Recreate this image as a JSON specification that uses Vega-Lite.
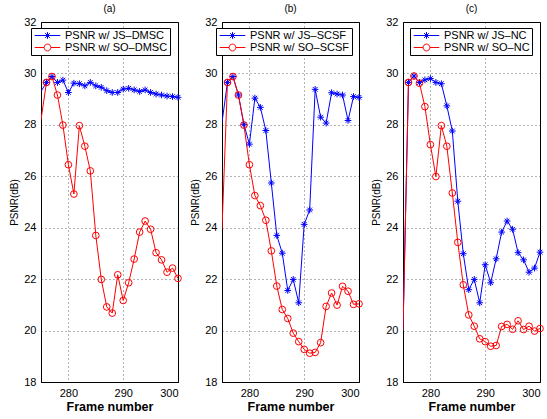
{
  "$schema": "https://vega.github.io/schema/vega-lite/v6.json",
  "background": "white",
  "padding": {"left": 9, "top": 3, "right": 5, "bottom": 5},
  "spacing": 44,
  "bounds": "flush",
  "config": {
    "font": "Liberation Sans",
    "view": {"stroke": "black", "strokeWidth": 1},
    "axis": {
      "labelFont": "Liberation Sans", "labelFontSize": 11, "labelColor": "black",
      "titleFont": "Liberation Sans", "titleColor": "black",
      "domainColor": "black", "domainWidth": 1,
      "gridColor": "black", "gridDash": [1, 3], "gridOpacity": 0.6, "gridWidth": 1,
      "ticks": false, "labelPadding": 5
    },
    "axisX": {"titleFontSize": 12.5, "titleFontWeight": "bold", "titlePadding": 2},
    "axisY": {"titleFontSize": 10, "titleFontWeight": "normal", "titlePadding": 4},
    "title": {"fontSize": 10, "font": "Liberation Sans", "fontWeight": "normal", "offset": 2, "color": "black"},
    "legend": {
      "orient": "none", "legendY": 6, "strokeColor": "black", "fillColor": "white",
      "padding": 2, "rowPadding": 0, "labelFont": "Liberation Sans", "labelFontSize": 11,
      "labelColor": "black", "symbolSize": 64, "symbolStrokeWidth": 1, "symbolOffset": 9,
      "labelOffset": 12, "cornerRadius": 0, "title": null
    }
  },
  "resolve": {"scale": {"color": "independent", "shape": "independent"}, "legend": {"color": "independent", "shape": "independent"}},
  "datasets": {
    "a": [
      {"frame": 275, "psnr": 29.3, "series": "PSNR w/ JS–DMSC"},
      {"frame": 276, "psnr": 29.65, "series": "PSNR w/ JS–DMSC"},
      {"frame": 277, "psnr": 29.88, "series": "PSNR w/ JS–DMSC"},
      {"frame": 278, "psnr": 29.65, "series": "PSNR w/ JS–DMSC"},
      {"frame": 279, "psnr": 29.74, "series": "PSNR w/ JS–DMSC"},
      {"frame": 280, "psnr": 29.26, "series": "PSNR w/ JS–DMSC"},
      {"frame": 281, "psnr": 29.62, "series": "PSNR w/ JS–DMSC"},
      {"frame": 282, "psnr": 29.6, "series": "PSNR w/ JS–DMSC"},
      {"frame": 283, "psnr": 29.52, "series": "PSNR w/ JS–DMSC"},
      {"frame": 284, "psnr": 29.65, "series": "PSNR w/ JS–DMSC"},
      {"frame": 285, "psnr": 29.52, "series": "PSNR w/ JS–DMSC"},
      {"frame": 286, "psnr": 29.46, "series": "PSNR w/ JS–DMSC"},
      {"frame": 287, "psnr": 29.33, "series": "PSNR w/ JS–DMSC"},
      {"frame": 288, "psnr": 29.26, "series": "PSNR w/ JS–DMSC"},
      {"frame": 289, "psnr": 29.26, "series": "PSNR w/ JS–DMSC"},
      {"frame": 290, "psnr": 29.39, "series": "PSNR w/ JS–DMSC"},
      {"frame": 291, "psnr": 29.42, "series": "PSNR w/ JS–DMSC"},
      {"frame": 292, "psnr": 29.36, "series": "PSNR w/ JS–DMSC"},
      {"frame": 293, "psnr": 29.3, "series": "PSNR w/ JS–DMSC"},
      {"frame": 294, "psnr": 29.36, "series": "PSNR w/ JS–DMSC"},
      {"frame": 295, "psnr": 29.26, "series": "PSNR w/ JS–DMSC"},
      {"frame": 296, "psnr": 29.2, "series": "PSNR w/ JS–DMSC"},
      {"frame": 297, "psnr": 29.16, "series": "PSNR w/ JS–DMSC"},
      {"frame": 298, "psnr": 29.12, "series": "PSNR w/ JS–DMSC"},
      {"frame": 299, "psnr": 29.1, "series": "PSNR w/ JS–DMSC"},
      {"frame": 300, "psnr": 29.07, "series": "PSNR w/ JS–DMSC"},
      {"frame": 275, "psnr": 28.2, "series": "PSNR w/ SO–DMSC"},
      {"frame": 276, "psnr": 29.65, "series": "PSNR w/ SO–DMSC"},
      {"frame": 277, "psnr": 29.88, "series": "PSNR w/ SO–DMSC"},
      {"frame": 278, "psnr": 29.16, "series": "PSNR w/ SO–DMSC"},
      {"frame": 279, "psnr": 27.99, "series": "PSNR w/ SO–DMSC"},
      {"frame": 280, "psnr": 26.45, "series": "PSNR w/ SO–DMSC"},
      {"frame": 281, "psnr": 25.31, "series": "PSNR w/ SO–DMSC"},
      {"frame": 282, "psnr": 27.97, "series": "PSNR w/ SO–DMSC"},
      {"frame": 283, "psnr": 27.17, "series": "PSNR w/ SO–DMSC"},
      {"frame": 284, "psnr": 26.21, "series": "PSNR w/ SO–DMSC"},
      {"frame": 285, "psnr": 23.7, "series": "PSNR w/ SO–DMSC"},
      {"frame": 286, "psnr": 21.99, "series": "PSNR w/ SO–DMSC"},
      {"frame": 287, "psnr": 20.92, "series": "PSNR w/ SO–DMSC"},
      {"frame": 288, "psnr": 20.68, "series": "PSNR w/ SO–DMSC"},
      {"frame": 289, "psnr": 22.17, "series": "PSNR w/ SO–DMSC"},
      {"frame": 290, "psnr": 21.17, "series": "PSNR w/ SO–DMSC"},
      {"frame": 291, "psnr": 21.86, "series": "PSNR w/ SO–DMSC"},
      {"frame": 292, "psnr": 22.78, "series": "PSNR w/ SO–DMSC"},
      {"frame": 293, "psnr": 23.83, "series": "PSNR w/ SO–DMSC"},
      {"frame": 294, "psnr": 24.26, "series": "PSNR w/ SO–DMSC"},
      {"frame": 295, "psnr": 23.94, "series": "PSNR w/ SO–DMSC"},
      {"frame": 296, "psnr": 23.03, "series": "PSNR w/ SO–DMSC"},
      {"frame": 297, "psnr": 22.75, "series": "PSNR w/ SO–DMSC"},
      {"frame": 298, "psnr": 22.27, "series": "PSNR w/ SO–DMSC"},
      {"frame": 299, "psnr": 22.43, "series": "PSNR w/ SO–DMSC"},
      {"frame": 300, "psnr": 22.03, "series": "PSNR w/ SO–DMSC"}
    ],
    "b": [
      {"frame": 275, "psnr": 28.1, "series": "PSNR w/ JS–SCSF"},
      {"frame": 276, "psnr": 29.65, "series": "PSNR w/ JS–SCSF"},
      {"frame": 277, "psnr": 29.88, "series": "PSNR w/ JS–SCSF"},
      {"frame": 278, "psnr": 29.16, "series": "PSNR w/ JS–SCSF"},
      {"frame": 279, "psnr": 28.02, "series": "PSNR w/ JS–SCSF"},
      {"frame": 280, "psnr": 27.25, "series": "PSNR w/ JS–SCSF"},
      {"frame": 281, "psnr": 29.04, "series": "PSNR w/ JS–SCSF"},
      {"frame": 282, "psnr": 28.68, "series": "PSNR w/ JS–SCSF"},
      {"frame": 283, "psnr": 27.78, "series": "PSNR w/ JS–SCSF"},
      {"frame": 284, "psnr": 25.74, "series": "PSNR w/ JS–SCSF"},
      {"frame": 285, "psnr": 23.7, "series": "PSNR w/ JS–SCSF"},
      {"frame": 286, "psnr": 23.01, "series": "PSNR w/ JS–SCSF"},
      {"frame": 287, "psnr": 21.56, "series": "PSNR w/ JS–SCSF"},
      {"frame": 288, "psnr": 21.99, "series": "PSNR w/ JS–SCSF"},
      {"frame": 289, "psnr": 21.08, "series": "PSNR w/ JS–SCSF"},
      {"frame": 290, "psnr": 24.13, "series": "PSNR w/ JS–SCSF"},
      {"frame": 291, "psnr": 24.69, "series": "PSNR w/ JS–SCSF"},
      {"frame": 292, "psnr": 29.38, "series": "PSNR w/ JS–SCSF"},
      {"frame": 293, "psnr": 28.3, "series": "PSNR w/ JS–SCSF"},
      {"frame": 294, "psnr": 28.07, "series": "PSNR w/ JS–SCSF"},
      {"frame": 295, "psnr": 29.25, "series": "PSNR w/ JS–SCSF"},
      {"frame": 296, "psnr": 29.2, "series": "PSNR w/ JS–SCSF"},
      {"frame": 297, "psnr": 29.16, "series": "PSNR w/ JS–SCSF"},
      {"frame": 298, "psnr": 28.17, "series": "PSNR w/ JS–SCSF"},
      {"frame": 299, "psnr": 29.1, "series": "PSNR w/ JS–SCSF"},
      {"frame": 300, "psnr": 29.07, "series": "PSNR w/ JS–SCSF"},
      {"frame": 275, "psnr": 23.95, "series": "PSNR w/ SO–SCSF"},
      {"frame": 276, "psnr": 29.65, "series": "PSNR w/ SO–SCSF"},
      {"frame": 277, "psnr": 29.88, "series": "PSNR w/ SO–SCSF"},
      {"frame": 278, "psnr": 29.16, "series": "PSNR w/ SO–SCSF"},
      {"frame": 279, "psnr": 27.99, "series": "PSNR w/ SO–SCSF"},
      {"frame": 280, "psnr": 26.45, "series": "PSNR w/ SO–SCSF"},
      {"frame": 281, "psnr": 25.25, "series": "PSNR w/ SO–SCSF"},
      {"frame": 282, "psnr": 24.86, "series": "PSNR w/ SO–SCSF"},
      {"frame": 283, "psnr": 24.29, "series": "PSNR w/ SO–SCSF"},
      {"frame": 284, "psnr": 23.1, "series": "PSNR w/ SO–SCSF"},
      {"frame": 285, "psnr": 21.73, "series": "PSNR w/ SO–SCSF"},
      {"frame": 286, "psnr": 20.82, "series": "PSNR w/ SO–SCSF"},
      {"frame": 287, "psnr": 20.47, "series": "PSNR w/ SO–SCSF"},
      {"frame": 288, "psnr": 19.9, "series": "PSNR w/ SO–SCSF"},
      {"frame": 289, "psnr": 19.57, "series": "PSNR w/ SO–SCSF"},
      {"frame": 290, "psnr": 19.27, "series": "PSNR w/ SO–SCSF"},
      {"frame": 291, "psnr": 19.12, "series": "PSNR w/ SO–SCSF"},
      {"frame": 292, "psnr": 19.15, "series": "PSNR w/ SO–SCSF"},
      {"frame": 293, "psnr": 19.53, "series": "PSNR w/ SO–SCSF"},
      {"frame": 294, "psnr": 20.94, "series": "PSNR w/ SO–SCSF"},
      {"frame": 295, "psnr": 21.46, "series": "PSNR w/ SO–SCSF"},
      {"frame": 296, "psnr": 20.99, "series": "PSNR w/ SO–SCSF"},
      {"frame": 297, "psnr": 21.72, "series": "PSNR w/ SO–SCSF"},
      {"frame": 298, "psnr": 21.53, "series": "PSNR w/ SO–SCSF"},
      {"frame": 299, "psnr": 21.02, "series": "PSNR w/ SO–SCSF"},
      {"frame": 300, "psnr": 21.04, "series": "PSNR w/ SO–SCSF"}
    ],
    "c": [
      {"frame": 275, "psnr": 20.0, "series": "PSNR w/ JS–NC"},
      {"frame": 276, "psnr": 29.65, "series": "PSNR w/ JS–NC"},
      {"frame": 277, "psnr": 29.9, "series": "PSNR w/ JS–NC"},
      {"frame": 278, "psnr": 29.65, "series": "PSNR w/ JS–NC"},
      {"frame": 279, "psnr": 29.75, "series": "PSNR w/ JS–NC"},
      {"frame": 280, "psnr": 29.8, "series": "PSNR w/ JS–NC"},
      {"frame": 281, "psnr": 29.65, "series": "PSNR w/ JS–NC"},
      {"frame": 282, "psnr": 29.6, "series": "PSNR w/ JS–NC"},
      {"frame": 283, "psnr": 28.74, "series": "PSNR w/ JS–NC"},
      {"frame": 284, "psnr": 27.76, "series": "PSNR w/ JS–NC"},
      {"frame": 285, "psnr": 25.03, "series": "PSNR w/ JS–NC"},
      {"frame": 286, "psnr": 22.99, "series": "PSNR w/ JS–NC"},
      {"frame": 287, "psnr": 21.59, "series": "PSNR w/ JS–NC"},
      {"frame": 288, "psnr": 21.99, "series": "PSNR w/ JS–NC"},
      {"frame": 289, "psnr": 21.08, "series": "PSNR w/ JS–NC"},
      {"frame": 290, "psnr": 22.56, "series": "PSNR w/ JS–NC"},
      {"frame": 291, "psnr": 21.86, "series": "PSNR w/ JS–NC"},
      {"frame": 292, "psnr": 22.79, "series": "PSNR w/ JS–NC"},
      {"frame": 293, "psnr": 23.83, "series": "PSNR w/ JS–NC"},
      {"frame": 294, "psnr": 24.26, "series": "PSNR w/ JS–NC"},
      {"frame": 295, "psnr": 23.94, "series": "PSNR w/ JS–NC"},
      {"frame": 296, "psnr": 23.03, "series": "PSNR w/ JS–NC"},
      {"frame": 297, "psnr": 22.75, "series": "PSNR w/ JS–NC"},
      {"frame": 298, "psnr": 22.27, "series": "PSNR w/ JS–NC"},
      {"frame": 299, "psnr": 22.43, "series": "PSNR w/ JS–NC"},
      {"frame": 300, "psnr": 23.05, "series": "PSNR w/ JS–NC"},
      {"frame": 275, "psnr": 20.0, "series": "PSNR w/ SO–NC"},
      {"frame": 276, "psnr": 29.65, "series": "PSNR w/ SO–NC"},
      {"frame": 277, "psnr": 29.9, "series": "PSNR w/ SO–NC"},
      {"frame": 278, "psnr": 29.62, "series": "PSNR w/ SO–NC"},
      {"frame": 279, "psnr": 28.71, "series": "PSNR w/ SO–NC"},
      {"frame": 280, "psnr": 27.23, "series": "PSNR w/ SO–NC"},
      {"frame": 281, "psnr": 25.99, "series": "PSNR w/ SO–NC"},
      {"frame": 282, "psnr": 27.97, "series": "PSNR w/ SO–NC"},
      {"frame": 283, "psnr": 27.17, "series": "PSNR w/ SO–NC"},
      {"frame": 284, "psnr": 25.35, "series": "PSNR w/ SO–NC"},
      {"frame": 285, "psnr": 23.43, "series": "PSNR w/ SO–NC"},
      {"frame": 286, "psnr": 21.78, "series": "PSNR w/ SO–NC"},
      {"frame": 287, "psnr": 20.61, "series": "PSNR w/ SO–NC"},
      {"frame": 288, "psnr": 20.17, "series": "PSNR w/ SO–NC"},
      {"frame": 289, "psnr": 19.68, "series": "PSNR w/ SO–NC"},
      {"frame": 290, "psnr": 19.57, "series": "PSNR w/ SO–NC"},
      {"frame": 291, "psnr": 19.39, "series": "PSNR w/ SO–NC"},
      {"frame": 292, "psnr": 19.42, "series": "PSNR w/ SO–NC"},
      {"frame": 293, "psnr": 20.16, "series": "PSNR w/ SO–NC"},
      {"frame": 294, "psnr": 20.24, "series": "PSNR w/ SO–NC"},
      {"frame": 295, "psnr": 20.05, "series": "PSNR w/ SO–NC"},
      {"frame": 296, "psnr": 20.38, "series": "PSNR w/ SO–NC"},
      {"frame": 297, "psnr": 20.04, "series": "PSNR w/ SO–NC"},
      {"frame": 298, "psnr": 20.17, "series": "PSNR w/ SO–NC"},
      {"frame": 299, "psnr": 19.98, "series": "PSNR w/ SO–NC"},
      {"frame": 300, "psnr": 20.08, "series": "PSNR w/ SO–NC"}
    ]
  },
  "hconcat": [
    {
      "title": "(a)", "width": 137, "height": 360, "data": {"name": "a"},
      "encoding": {
        "x": {"field": "frame", "type": "quantitative", "scale": {"domain": [275, 300], "nice": false, "zero": false}, "title": "Frame number", "axis": {"values": [280, 290, 300]}},
        "y": {"field": "psnr", "type": "quantitative", "scale": {"domain": [18, 32], "nice": false, "zero": false}, "title": "PSNR(dB)", "axis": {"values": [18, 20, 22, 24, 26, 28, 30, 32]}},
        "color": {"field": "series", "type": "nominal", "scale": {"range": ["#0000ff", "#ff0000"]},
          "legend": {"legendX": -10, "encode": {"symbols": {"update": {"shape": {"signal": "datum.value === 'PSNR w/ JS–DMSC' ? 'M-3.2,0H3.2M0,-0.85V0.85M-0.6,-0.6L0.6,0.6M-0.6,0.6L0.6,-0.6' : 'M-3.2,0H-0.85M0.85,0H3.2M0.85,0A0.85,0.85 0 1 1 -0.85,0A0.85,0.85 0 1 1 0.85,0'"}, "fill": {"value": "transparent"}, "strokeWidth": {"value": 1}}}}}}
      },
      "layer": [
        {"mark": {"type": "line", "strokeWidth": 1, "clip": true}},
        {"transform": [{"filter": "datum.frame >= 276"}], "mark": {"type": "point", "strokeWidth": 1, "size": 45, "filled": false, "opacity": 1},
          "encoding": {"shape": {"field": "series", "type": "nominal", "scale": {"range": ["M-1,0H1M0,-1V1M-0.7,-0.7L0.7,0.7M-0.7,0.7L0.7,-0.7", "circle"]}, "legend": null}}}
      ]
    },
    {
      "title": "(b)", "width": 137, "height": 360, "data": {"name": "b"},
      "encoding": {
        "x": {"field": "frame", "type": "quantitative", "scale": {"domain": [275, 300], "nice": false, "zero": false}, "title": "Frame number", "axis": {"values": [280, 290, 300]}},
        "y": {"field": "psnr", "type": "quantitative", "scale": {"domain": [18, 32], "nice": false, "zero": false}, "title": "PSNR(dB)", "axis": {"values": [18, 20, 22, 24, 26, 28, 30, 32]}},
        "color": {"field": "series", "type": "nominal", "scale": {"range": ["#0000ff", "#ff0000"]},
          "legend": {"legendX": -6, "encode": {"symbols": {"update": {"shape": {"signal": "datum.value === 'PSNR w/ JS–SCSF' ? 'M-3.2,0H3.2M0,-0.85V0.85M-0.6,-0.6L0.6,0.6M-0.6,0.6L0.6,-0.6' : 'M-3.2,0H-0.85M0.85,0H3.2M0.85,0A0.85,0.85 0 1 1 -0.85,0A0.85,0.85 0 1 1 0.85,0'"}, "fill": {"value": "transparent"}, "strokeWidth": {"value": 1}}}}}}
      },
      "layer": [
        {"mark": {"type": "line", "strokeWidth": 1, "clip": true}},
        {"transform": [{"filter": "datum.frame >= 276"}], "mark": {"type": "point", "strokeWidth": 1, "size": 45, "filled": false, "opacity": 1},
          "encoding": {"shape": {"field": "series", "type": "nominal", "scale": {"range": ["M-1,0H1M0,-1V1M-0.7,-0.7L0.7,0.7M-0.7,0.7L0.7,-0.7", "circle"]}, "legend": null}}}
      ]
    },
    {
      "title": "(c)", "width": 137, "height": 360, "data": {"name": "c"},
      "encoding": {
        "x": {"field": "frame", "type": "quantitative", "scale": {"domain": [275, 300], "nice": false, "zero": false}, "title": "Frame number", "axis": {"values": [280, 290, 300]}},
        "y": {"field": "psnr", "type": "quantitative", "scale": {"domain": [18, 32], "nice": false, "zero": false}, "title": "PSNR(dB)", "axis": {"values": [18, 20, 22, 24, 26, 28, 30, 32]}},
        "color": {"field": "series", "type": "nominal", "scale": {"range": ["#0000ff", "#ff0000"]},
          "legend": {"legendX": 7, "encode": {"symbols": {"update": {"shape": {"signal": "datum.value === 'PSNR w/ JS–NC' ? 'M-3.2,0H3.2M0,-0.85V0.85M-0.6,-0.6L0.6,0.6M-0.6,0.6L0.6,-0.6' : 'M-3.2,0H-0.85M0.85,0H3.2M0.85,0A0.85,0.85 0 1 1 -0.85,0A0.85,0.85 0 1 1 0.85,0'"}, "fill": {"value": "transparent"}, "strokeWidth": {"value": 1}}}}}}
      },
      "layer": [
        {"mark": {"type": "line", "strokeWidth": 1, "clip": true}},
        {"transform": [{"filter": "datum.frame >= 276"}], "mark": {"type": "point", "strokeWidth": 1, "size": 45, "filled": false, "opacity": 1},
          "encoding": {"shape": {"field": "series", "type": "nominal", "scale": {"range": ["M-1,0H1M0,-1V1M-0.7,-0.7L0.7,0.7M-0.7,0.7L0.7,-0.7", "circle"]}, "legend": null}}}
      ]
    }
  ]
}
